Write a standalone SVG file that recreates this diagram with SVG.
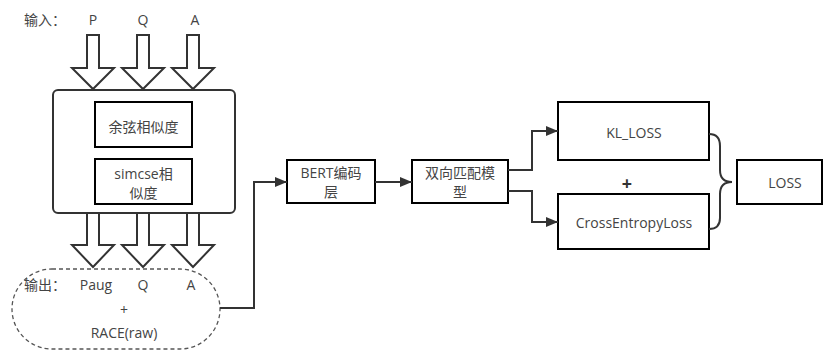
<svg xmlns="http://www.w3.org/2000/svg" width="824" height="351" viewBox="0 0 824 351">
<defs>
<marker id="ah" viewBox="0 0 12 10" refX="12" refY="5" markerWidth="12" markerHeight="10" markerUnits="userSpaceOnUse" orient="auto"><path d="M0,0 L12,5 L0,10 Z" fill="#333"/></marker>
<style>
text{font-family:"Open Sans","Noto Sans CJK SC",sans-serif;font-size:14px;fill:#444;text-anchor:middle}
.box{fill:#fff;stroke:#000;stroke-width:2}
.harrow{fill:#fff;stroke:#333;stroke-width:2;stroke-linejoin:miter}
.conn{fill:none;stroke:#333;stroke-width:2}
</style>
</defs>
<rect width="824" height="351" fill="#fff"/>
<g id="input-label">
<text x="45" y="25">输入：</text>
<text x="93" y="25">P</text>
<text x="143" y="25">Q</text>
<text x="195" y="25">A</text>
</g>
<g id="input-arrows">
<polygon class="harrow" points="87,35 99,35 99,68 114,68 93,89 72,68 87,68"/>
<polygon class="harrow" points="137,35 149,35 149,68 164,68 143,89 122,68 137,68"/>
<polygon class="harrow" points="187,35 199,35 199,68 214,68 193,89 172,68 187,68"/>
</g>
<g id="similarity-box">
<rect x="53" y="90" width="182" height="123" rx="5" fill="#fff" stroke="#333" stroke-width="2"/>
</g>
<g id="cosine">
<rect class="box" x="95" y="102" width="97" height="45" stroke="#444"/>
<text x="143.5" y="132">余弦相似度</text>
</g>
<g id="simcse">
<rect class="box" x="95" y="159" width="97" height="45"/>
<text x="143.5" y="179">simcse相</text>
<text x="143.5" y="198">似度</text>
</g>
<g id="output-arrows">
<polygon class="harrow" points="87,213 99,213 99,245 114,245 93,267 72,245 87,245"/>
<polygon class="harrow" points="137,213 149,213 149,245 164,245 143,267 122,245 137,245"/>
<polygon class="harrow" points="187,213 199,213 199,245 214,245 193,267 172,245 187,245"/>
</g>
<g id="output">
<rect x="12" y="269" width="208" height="80" rx="40" ry="40" fill="#fff" stroke="#555" stroke-width="1.3" stroke-dasharray="4,3"/>
<text x="45" y="290">输出：</text>
<text x="96" y="290">Paug</text>
<text x="143" y="290">Q</text>
<text x="191" y="290">A</text>
<text x="124" y="315">+</text>
<text x="124" y="338">RACE(raw)</text>
</g>
<g id="bert">
<rect class="box" x="287" y="160" width="88" height="43"/>
<text x="331" y="178">BERT编码</text>
<text x="331" y="197">层</text>
</g>
<g id="match">
<rect class="box" x="412" y="160" width="96" height="43"/>
<text x="460" y="178">双向匹配模</text>
<text x="460" y="197">型</text>
</g>
<g id="kl">
<rect class="box" x="558" y="102" width="151" height="58"/>
<text x="634" y="138">KL_LOSS</text>
</g>
<g id="plus">
<text x="627" y="190" style="font-size:18px;font-weight:bold;fill:#333">+</text>
</g>
<g id="ce">
<rect class="box" x="558" y="194" width="151" height="55"/>
<text x="634" y="228">CrossEntropyLoss</text>
</g>
<g id="loss">
<rect class="box" x="737" y="160" width="85" height="44"/>
<text x="785" y="188">LOSS</text>
</g>
<g id="connectors">
<path class="conn" d="M220,308 H254 V182 H287" marker-end="url(#ah)"/>
<path class="conn" d="M375,182 H412" marker-end="url(#ah)"/>
<path class="conn" d="M508,170 H532 V131 H558" marker-end="url(#ah)"/>
<path class="conn" d="M508,191 H532 V222 H558" marker-end="url(#ah)"/>
<path class="conn" d="M709,134 Q720,134 720,146 V170 Q720,182 732,182 Q720,182 720,194 V218 Q720,229 709,229"/>
</g>
</svg>
